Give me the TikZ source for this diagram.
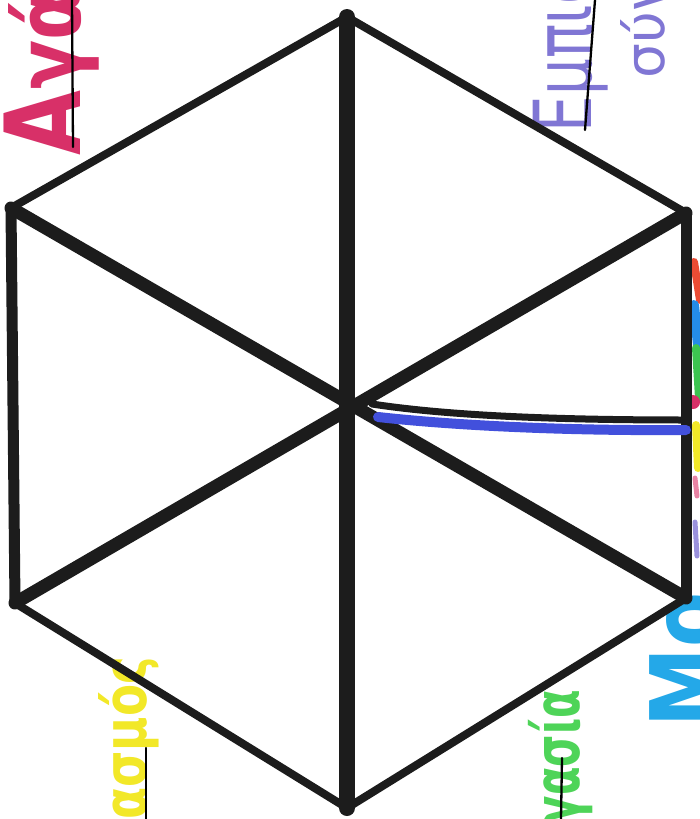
\documentclass[tikz,border=0pt]{standalone}
\usepackage{fontspec}
\setmainfont{DejaVu Sans}
\usepackage{graphicx}
\definecolor{ink}{RGB}{28,28,28}
\definecolor{pinkm}{RGB}{216,48,104}
\definecolor{lavm}{RGB}{128,118,212}
\definecolor{cyanm}{RGB}{36,168,232}
\definecolor{greenm}{RGB}{78,212,88}
\definecolor{yellowm}{RGB}{242,232,40}
\definecolor{bluem}{RGB}{66,80,220}
\definecolor{redm}{RGB}{236,76,52}
\definecolor{blue2m}{RGB}{36,140,232}
\definecolor{green2m}{RGB}{60,196,80}
\tikzset{
  hexedge/.style={draw=ink, line width=8pt, line join=round, line cap=round},
  sideedge/.style={draw=ink, line width=11pt, line cap=round},
  spoke/.style={draw=ink, line width=13pt, line cap=round},
  vspoke/.style={draw=ink, line width=16pt, line cap=round},
  penline/.style={draw=black, line width=2.3pt, line cap=round},
  word/.style={rotate=90, inner sep=0pt, outer sep=0pt, font=\bfseries},
  lightword/.style={rotate=90, inner sep=0pt, outer sep=0pt},
  frag/.style={line width=8pt, line cap=round},
}
\begin{document}
\begin{tikzpicture}[x=1pt,y=-1pt]
\useasboundingbox (0,0) rectangle (700,819);
\clip (0,0) rectangle (700,819);
\fill[white] (0,0) rectangle (700,819);

% hexagon corners and centre
\coordinate (T)  at (347,17);
\coordinate (UR) at (686,213);
\coordinate (LR) at (686,598);
\coordinate (B)  at (347,808);
\coordinate (LL) at (15,603);
\coordinate (UL) at (11,208);
\coordinate (C)  at (347,408);

% coloured words (drawn under the lines)
\node[word, anchor=base west, text=pinkm] (w1) at (80,155)
  {\scalebox{0.8}[1]{\fontsize{105}{105}\selectfont Α}\scalebox{0.8}[1]{\fontsize{90}{90}\selectfont γάπη}};
\node[lightword, anchor=base west, text=lavm] (w2) at (591,132)
  {\scalebox{0.72}[1]{\fontsize{80}{80}\selectfont Εμπιστο}};
\node[lightword, anchor=base west, text=lavm] (w3) at (664,78)
  {\fontsize{55}{55}\selectfont σύνη};
\node[word, anchor=base west, text=cyanm] (w4) at (722,727)
  {\scalebox{0.8}[1]{\fontsize{100}{100}\selectfont Μο}};
\node[word, anchor=base east, text=greenm] (w5) at (579,690)
  {\scalebox{0.65}[1]{\fontsize{64}{64}\selectfont Συνεργασία}};
\node[word, anchor=base east, text=yellowm] (w6) at (146,657)
  {\scalebox{0.78}[1]{\fontsize{60}{60}\selectfont Σεβασμός}};

% fragments of words at the right edge
\draw[frag, redm] (694,262) -- (700,300);
\draw[frag, line width=10pt, blue2m] (694,305) -- (698,345);
\draw[frag, green2m] (696,348) -- (699,398);
\fill[pinkm] (693,402) circle (7);
\draw[frag, yellowm] (696,425) -- (698,468);
\draw[frag, line width=5pt, pinkm!60] (695,478) -- (697,496);
\draw[frag, line width=5pt, lavm!80] (695,522) -- (697,556);

% hexagon
\draw[hexedge] (UL) -- (T) -- (UR);
\draw[hexedge] (LR) -- (B) -- (LL);
\draw[sideedge] (UR) -- (LR);
\draw[sideedge] (LL) -- (UL);
% spokes
\draw[vspoke] (T) -- (B);
\draw[spoke] (UL) -- (LR);
\draw[spoke] (LL) -- (UR);

% blue and black line from centre to the right side
\coordinate (Rb) at (686,430);
\coordinate (Rk) at (686,420);
\coordinate (Cb) at (378,417);
\coordinate (Ck) at (372,404);
\draw[bluem, line width=10pt, line cap=round] (Cb) .. controls (450,425) and (560,431) .. (Rb);
\draw[ink, line width=7pt, line cap=round] (Ck) .. controls (450,416) and (560,420) .. (Rk);

% thin pen lines through the words
\coordinate (p1a) at (72,0);   \coordinate (p1b) at (73,147);
\coordinate (p2a) at (595,0);  \coordinate (p2b) at (585,130);
\coordinate (p3a) at (146,748);\coordinate (p3b) at (146,819);
\coordinate (p4a) at (562,758);\coordinate (p4b) at (561,819);
\draw[penline] (p1a) -- (p1b);
\draw[penline] (p2a) -- (p2b);
\draw[penline] (p3a) -- (p3b);
\draw[penline] (p4a) -- (p4b);
\end{tikzpicture}
\end{document}
